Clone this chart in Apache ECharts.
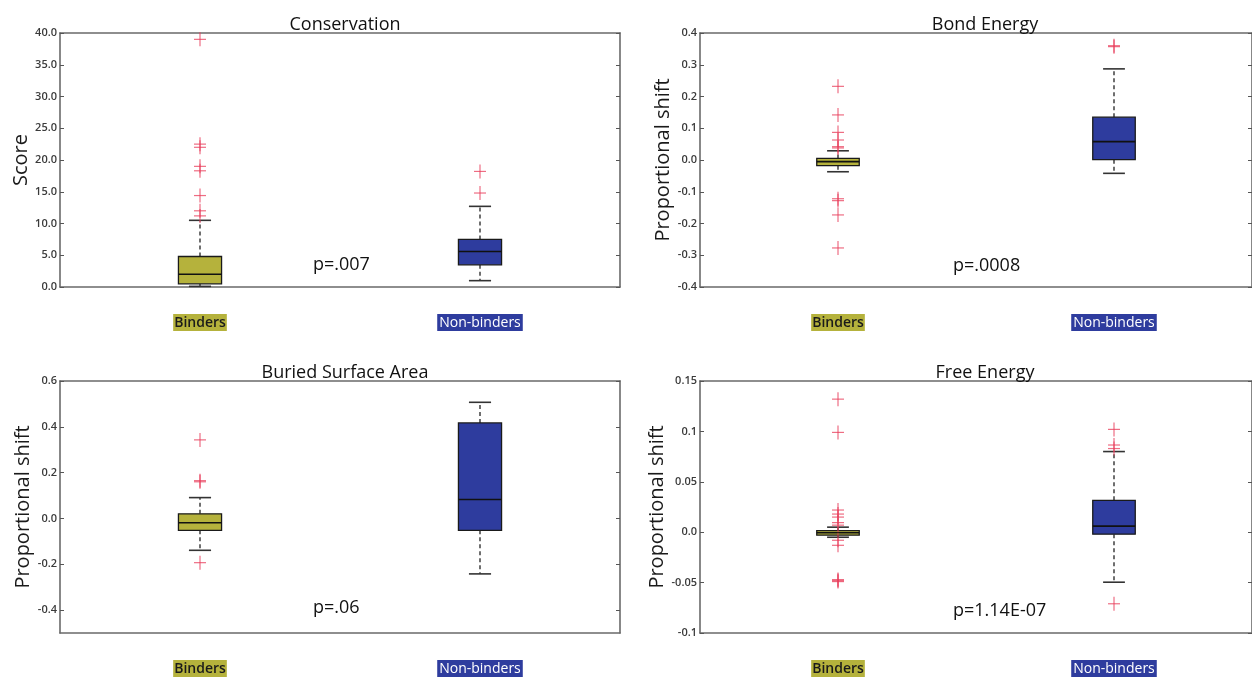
<!DOCTYPE html>
<html>
<head>
<meta charset="utf-8">
<script src="https://cdn.jsdelivr.net/npm/echarts@6/dist/echarts.min.js"></script>
<style>
html,body{margin:0;padding:0;background:#fff;}
#chart{width:1252px;height:677px;}
</style>
</head>
<body>
<div id="chart"></div>
<script>
// ---------- data ----------
const categories = ['Binders', 'Non-binders'];
const panelTitles = ['Conservation', 'Bond Energy', 'Buried Surface Area', 'Free Energy'];
const yAxisNames = ['Score', 'Proportional shift', 'Proportional shift', 'Proportional shift'];
const pValues = ['p=.007', 'p=.0008', 'p=.06', 'p=1.14E-07'];

// tick labels per panel (bottom to top)
const conservationTicks = ['0.0', '5.0', '10.0', '15.0', '20.0', '25.0', '30.0', '35.0', '40.0'];
const bondTicks = ['-0.4', '-0.3', '-0.2', '-0.1', '0.0', '0.1', '0.2', '0.3', '0.4'];
const bsaTicks = ['-0.4', '-0.2', '0.0', '0.2', '0.4', '0.6'];
const freeTicks = ['-0.1', '-0.05', '0.0', '0.05', '0.1', '0.15'];
// axis ranges [min, max]
const conservationRange = [0, 40];
const bondRange = [-0.4, 0.4];
const bsaRange = [-0.5, 0.6];
const freeRange = [-0.1, 0.15];

// box stats per category: [lower whisker, Q1, median, Q3, upper whisker]
const conservationBoxes = [[0.1, 0.5, 2.0, 4.8, 10.5], [1.0, 3.5, 5.6, 7.5, 12.7]];
const bondBoxes = [[-0.037, -0.018, -0.005, 0.005, 0.029], [-0.042, 0.001, 0.058, 0.135, 0.287]];
const bsaBoxes = [[-0.139, -0.052, -0.019, 0.020, 0.091], [-0.242, -0.052, 0.083, 0.417, 0.507]];
const freeBoxes = [[-0.005, -0.003, -0.0005, 0.0015, 0.005], [-0.0496, -0.002, 0.006, 0.0316, 0.080]];

// outliers per category
const conservationOutliers = [[39.0, 22.5, 22.0, 19.0, 18.3, 14.4, 12.0, 11.2], [18.2, 14.8]];
const bondOutliers = [[0.232, 0.142, 0.087, 0.063, 0.042, 0.038, -0.122, -0.128, -0.173, -0.277], [0.36, 0.357]];
const bsaOutliers = [[0.343, 0.165, 0.160, -0.193], []];
const freeOutliers = [[0.132, 0.099, 0.022, 0.018, 0.015, 0.0095, 0.007, -0.008, -0.013, -0.047, -0.048, -0.049], [0.102, 0.0865, 0.083, -0.071]];

// ---------- styling / layout ----------
const FONT = '"Open Sans", "Noto Sans", sans-serif';
const boxFills = ['#b5b23c', '#2e3c9e'];
const grids = [
  { left: 60, top: 33, width: 560, height: 254 },
  { left: 700, top: 33, width: 560, height: 254 },
  { left: 60, top: 381, width: 560, height: 253 },
  { left: 700, top: 381, width: 560, height: 253 }
];
const panelData = [
  { boxes: conservationBoxes, outliers: conservationOutliers, ticks: conservationTicks, range: conservationRange },
  { boxes: bondBoxes, outliers: bondOutliers, ticks: bondTicks, range: bondRange },
  { boxes: bsaBoxes, outliers: bsaOutliers, ticks: bsaTicks, range: bsaRange },
  { boxes: freeBoxes, outliers: freeOutliers, ticks: freeTicks, range: freeRange }
];
const titleCenters = [340, 980, 340, 980];
const pPos = [[313, 256], [953, 257], [313, 599], [953, 602]];

const axisLineStyle = { color: '#6a6a6a', width: 1.6 };
const tickStyle = { color: '#555', width: 1 };

function renderBox(params, api) {
  const cat = api.value(0);
  const lo = api.coord([cat, api.value(1)]);
  const q1 = api.coord([cat, api.value(2)]);
  const md = api.coord([cat, api.value(3)]);
  const q3 = api.coord([cat, api.value(4)]);
  const hi = api.coord([cat, api.value(5)]);
  const band = api.size([1, 0])[0];
  const bw = band * 0.154, cw = band * 0.079;
  const x = lo[0];
  const dash = { stroke: '#222', lineWidth: 1.3, lineDash: [4, 3] };
  const cap = { stroke: '#333', lineWidth: 1.6 };
  return {
    type: 'group',
    children: [
      { type: 'line', shape: { x1: x, y1: q3[1], x2: x, y2: hi[1] }, style: dash },
      { type: 'line', shape: { x1: x, y1: q1[1], x2: x, y2: lo[1] }, style: dash },
      { type: 'line', shape: { x1: x - cw / 2, y1: hi[1], x2: x + cw / 2, y2: hi[1] }, style: cap },
      { type: 'line', shape: { x1: x - cw / 2, y1: lo[1], x2: x + cw / 2, y2: lo[1] }, style: cap },
      { type: 'rect', shape: { x: x - bw / 2, y: q3[1], width: bw, height: q1[1] - q3[1] },
        style: { fill: boxFills[cat], stroke: '#1a1a1a', lineWidth: 1.3 } },
      { type: 'line', shape: { x1: x - bw / 2, y1: md[1], x2: x + bw / 2, y2: md[1] },
        style: { stroke: '#111', lineWidth: 1.6 } }
    ]
  };
}

function renderPlus(params, api) {
  const p = api.coord([api.value(0), api.value(1)]);
  const s = { stroke: 'rgba(232,60,90,0.75)', lineWidth: 1.2 };
  return {
    type: 'group',
    children: [
      { type: 'line', shape: { x1: p[0] - 6, y1: p[1], x2: p[0] + 6, y2: p[1] }, style: s },
      { type: 'line', shape: { x1: p[0], y1: p[1] - 7, x2: p[0], y2: p[1] + 7 }, style: s }
    ]
  };
}

const option = {
  backgroundColor: '#fff',
  animation: false,
  textStyle: { fontFamily: FONT },
  title: [],
  grid: [],
  xAxis: [],
  yAxis: [],
  series: [],
  graphic: []
};

panelData.forEach((pd, i) => {
  const g = grids[i];
  option.grid.push(Object.assign({ containLabel: false }, g));
  option.title.push({
    text: panelTitles[i],
    left: titleCenters[i],
    textAlign: 'center',
    top: g.top - 22,
    textStyle: { fontFamily: FONT, fontSize: 18, fontWeight: 'normal', color: '#111' }
  });
  const tickVals = pd.ticks.map(Number);
  // bottom x axis
  option.xAxis.push({
    gridIndex: i, type: 'category', data: categories, position: 'bottom',
    axisLine: { onZero: false, lineStyle: axisLineStyle },
    axisTick: { inside: true, alignWithLabel: true, length: 4, lineStyle: tickStyle },
    axisLabel: {
      margin: 27,
      formatter: (v, idx) => (idx === 0 ? '{a|' + v + '}' : '{b|' + v + '}'),
      rich: {
        a: { backgroundColor: boxFills[0], color: '#1a1a1a', fontFamily: FONT, fontSize: 14, fontWeight: 600, padding: [2, 1, 1, 1] },
        b: { backgroundColor: boxFills[1], color: '#fff', fontFamily: FONT, fontSize: 14, padding: [2, 2, 1, 2] }
      }
    },
    splitLine: { show: false }
  });
  // top x axis (frame + ticks)
  option.xAxis.push({
    gridIndex: i, type: 'category', data: categories, position: 'top',
    axisLine: { onZero: false, lineStyle: axisLineStyle },
    axisTick: { inside: true, alignWithLabel: true, length: 4, lineStyle: tickStyle },
    axisLabel: { show: false }, splitLine: { show: false }
  });
  // left y axis
  option.yAxis.push({
    gridIndex: i, type: 'value', position: 'left',
    min: pd.range[0], max: pd.range[1],
    name: yAxisNames[i], nameLocation: 'middle', nameGap: 27,
    nameTextStyle: { fontFamily: FONT, fontSize: 20, color: '#1a1a1a' },
    axisLine: { show: true, onZero: false, lineStyle: axisLineStyle },
    axisTick: { show: true, inside: true, length: 4, lineStyle: tickStyle, customValues: tickVals },
    axisLabel: {
      margin: 3, fontFamily: FONT, fontSize: 11, fontWeight: 600, color: '#3a3a3a',
      customValues: tickVals,
      formatter: (v) => { const k = tickVals.findIndex(t => Math.abs(t - v) < 1e-9); return k >= 0 ? pd.ticks[k] : ''; }
    },
    splitLine: { show: false }
  });
  // right y axis (frame + ticks)
  option.yAxis.push({
    gridIndex: i, type: 'value', position: 'right',
    min: pd.range[0], max: pd.range[1],
    axisLine: { show: true, onZero: false, lineStyle: axisLineStyle },
    axisTick: { show: true, inside: true, length: 4, lineStyle: tickStyle, customValues: tickVals },
    axisLabel: { show: false, customValues: tickVals },
    splitLine: { show: false }
  });

  const boxData = pd.boxes.map((b, c) => [c].concat(b));
  option.series.push({
    type: 'custom', xAxisIndex: i * 2, yAxisIndex: i * 2,
    renderItem: renderBox,
    encode: { x: 0, y: [1, 2, 3, 4, 5] },
    data: boxData, z: 2, clip: false
  });
  const outData = [];
  pd.outliers.forEach((arr, c) => arr.forEach(v => outData.push([c, v])));
  option.series.push({
    type: 'custom', xAxisIndex: i * 2, yAxisIndex: i * 2,
    renderItem: renderPlus,
    encode: { x: 0, y: 1 },
    data: outData, z: 3, clip: false
  });

  option.graphic.push({
    type: 'text', left: pPos[i][0], top: pPos[i][1], z: 10,
    style: { text: pValues[i], font: '18px ' + FONT, fill: '#111' }
  });
});

const chart = echarts.init(document.getElementById('chart'));
chart.setOption(option);
</script>
</body>
</html>
